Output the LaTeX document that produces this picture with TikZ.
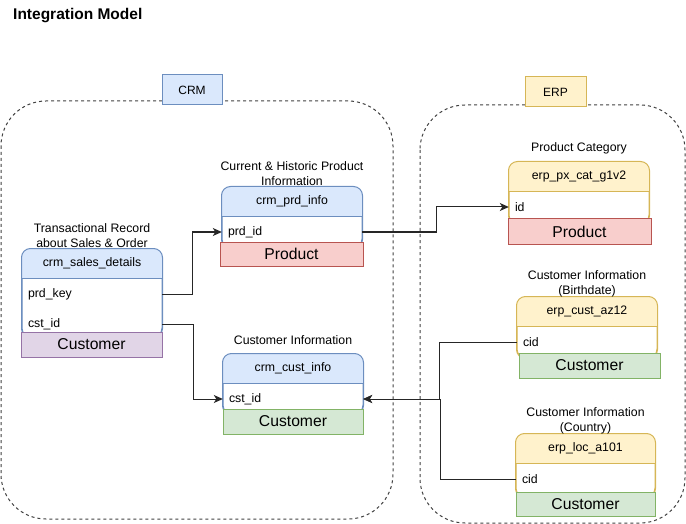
\documentclass[tikz,border=0pt]{standalone}
\usepackage{fontspec}
\setmainfont{Liberation Sans}
\usetikzlibrary{positioning,calc,arrows.meta}

\definecolor{crmfill}{HTML}{DAE8FC}
\definecolor{crmline}{HTML}{6C8EBF}
\definecolor{erpfill}{HTML}{FFF2CC}
\definecolor{erpline}{HTML}{D6B656}
\definecolor{prodfill}{HTML}{F8CECC}
\definecolor{prodline}{HTML}{B85450}
\definecolor{custfill}{HTML}{D5E8D4}
\definecolor{custline}{HTML}{82B366}
\definecolor{salefill}{HTML}{E1D5E7}
\definecolor{saleline}{HTML}{9673A6}

\tikzset{
  group/.style={draw=black!75, line width=1pt, dash pattern=on 3pt off 3pt, rounded corners=45pt},
  grouplabel/.style={line width=1pt, minimum width=60pt, minimum height=30pt, inner sep=0pt, font=\fontsize{12}{14}\selectfont},
  tbl/.style={draw=#1, fill=white, line width=1pt, rounded corners=9pt, minimum width=140pt, inner sep=0pt},
  hdrtext/.style={font=\fontsize{12.3}{15}\selectfont, inner sep=0pt},
  caption/.style={font=\fontsize{12.3}{15}\selectfont, align=center, inner sep=0pt},
  row/.style={font=\fontsize{12.3}{15}\selectfont, text width=128pt, inner xsep=6pt, inner ysep=0pt, align=left},
  tag/.style={line width=1pt, inner sep=0pt, font=\fontsize{15.7}{18}\selectfont},
  link/.style={draw=black!85, line width=1pt, -{Stealth[length=9pt,width=8pt,inset=2.5pt]}}
}

% header band of a table node: #1 node, #2 fill, #3 line
\newcommand\tablehead[3]{%
  \begin{scope}
    \clip[rounded corners=9pt] (#1.north west) rectangle (#1.south east);
    \fill[#2] (#1.north west) rectangle ([yshift=-30pt]#1.north east);
  \end{scope}
  \draw[#3, line width=1pt, rounded corners=9pt] (#1.north west) rectangle (#1.south east);
  \draw[#3, line width=1pt] ([yshift=-30pt]#1.north west) -- ([yshift=-30pt]#1.north east);}

\begin{document}
\begin{tikzpicture}[x=1pt, y=-1pt]
    \useasboundingbox (0,0) rectangle (686,524);
    \node[anchor=west, inner sep=0pt, font=\bfseries\fontsize{15.5}{18}\selectfont] (title) at (13,16) {Integration Model};

    % source systems
    \draw[group] (1,101) rectangle (393,519);
    \draw[group] (420,105) rectangle (685,523);
    \node[grouplabel, fill=crmfill, draw=crmline] (crm) at (192,90) {CRM};
    \node[grouplabel, fill=erpfill, draw=erpline, minimum width=61pt] (erp) at (555.5,92) {ERP};

    % CRM tables
    \node[tbl=crmline, minimum height=88pt] (sales) at (92,293) {};
    \tablehead{sales}{crmfill}{crmline}
    \node[hdrtext] at ([yshift=-15pt]sales.north) {crm\_sales\_details};
    \node[caption] at ([yshift=13pt]sales.north) {Transactional Record\\about Sales \& Order};
    \node[row] (salesprd) at (92,294) {prd\_key};
    \node[row] (salescst) at (92,324) {cst\_id};
    \node[tag, fill=salefill, draw=saleline, minimum width=141pt, minimum height=25pt] (salestag) at (91.5,344.5) {Customer};

    \node[tbl=crmline, minimum height=61pt] (prdinfo) at (292,217.5) {};
    \tablehead{prdinfo}{crmfill}{crmline}
    \node[hdrtext] at ([yshift=-15pt]prdinfo.north) {crm\_prd\_info};
    \node[caption] at ([yshift=13pt]prdinfo.north) {Current \& Historic Product\\Information};
    \node[row] (prdid) at (292,232) {prd\_id};
    \node[tag, fill=prodfill, draw=prodline, minimum width=143pt, minimum height=24pt] (prdtag) at (291.5,254) {Product};

    \node[tbl=crmline, minimum height=60pt] (custinfo) at (293,384) {};
    \tablehead{custinfo}{crmfill}{crmline}
    \node[hdrtext] at ([yshift=-15pt]custinfo.north) {crm\_cust\_info};
    \node[caption] at ([yshift=13pt]custinfo.north) {Customer Information};
    \node[row] (custid) at (293,399) {cst\_id};
    \node[tag, fill=custfill, draw=custline, minimum width=140pt, minimum height=25pt] (custtag) at (293,421.5) {Customer};

    % ERP tables
    \node[tbl=erpline, minimum height=62pt] (pxcat) at (579,193) {};
    \tablehead{pxcat}{erpfill}{erpline}
    \node[hdrtext] at ([yshift=-15pt]pxcat.north) {erp\_px\_cat\_g1v2};
    \node[caption] at ([yshift=13pt]pxcat.north) {Product Category};
    \node[row] (pxid) at (579,207) {id};
    \node[tag, fill=prodfill, draw=prodline, minimum width=143pt, minimum height=25pt] (pxtag) at (579.5,231.5) {Product};

    \node[tbl=erpline, minimum height=61pt] (az12) at (587,327.5) {};
    \tablehead{az12}{erpfill}{erpline}
    \node[hdrtext] at ([yshift=-15pt]az12.north) {erp\_cust\_az12};
    \node[caption] at ([yshift=13pt]az12.north) {Customer Information\\(Birthdate)};
    \node[row] (az12cid) at (587,342) {cid};
    \node[tag, fill=custfill, draw=custline, minimum width=141pt, minimum height=25pt] (az12tag) at (589.5,365.5) {Customer};

    \node[tbl=erpline, minimum height=63pt, minimum width=139pt] (loc) at (585.5,465.5) {};
    \tablehead{loc}{erpfill}{erpline}
    \node[hdrtext] at ([yshift=-15pt]loc.north) {erp\_loc\_a101};
    \node[caption] at ([yshift=13pt]loc.north) {Customer Information\\(Country)};
    \node[row, text width=127pt] (loccid) at (585.5,479) {cid};
    \node[tag, fill=custfill, draw=custline, minimum width=139pt, minimum height=24pt] (loctag) at (585.5,504) {Customer};

    % keys
    \draw[link] (salesprd.east) -- ++(30,0) |- (prdid.west);
    \draw[link] (salescst.east) -- ++(31,0) |- (custid.west);
    \draw[link] (prdid.east) -- ++(74,0) |- (pxid.west);
    \draw[link] (az12cid.west) -- ++(-77,0) |- (custid.east);
    \draw[link] (loccid.west) -- ++(-75.5,0) |- (custid.east);
\end{tikzpicture}
\end{document}
